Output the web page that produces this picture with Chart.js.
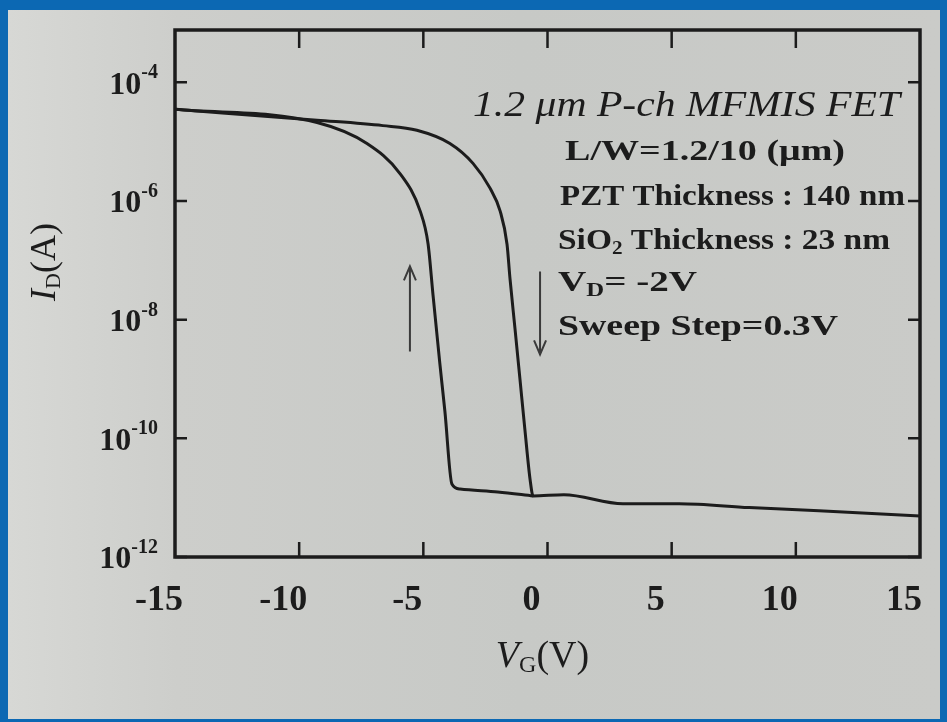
<!DOCTYPE html>
<html><head><meta charset="utf-8">
<script src="https://cdn.jsdelivr.net/npm/chart.js@4/dist/chart.umd.min.js"></script>
<style>
html,body{margin:0;padding:0;background:#0c68b3;width:947px;height:722px;overflow:hidden}
#paper{position:absolute;left:8px;top:10px;width:932px;height:709px;background:linear-gradient(90deg,#d7d8d5 0%,#cdcecb 18%,#c7c9c6 55%,#cacbc8 100%)}
canvas{position:absolute;left:0;top:0}
</style></head>
<body><div id="paper"></div><canvas id="c" width="947" height="722"></canvas>
<script>
// ---- data ----
const vgForward = [-15, -9.28, -6.63, -5.26, -3.93, -3.00, -2.32, -1.91, -1.63, -1.51, -1.31, -1.11, -0.91, -0.70, -0.58, 0.66, 3.04, 5.30, 8.12, 10.93, 15];
const idForward = [3.5e-5, 2.3e-5, 1.86e-5, 1.55e-5, 9.3e-6, 4.3e-6, 1.66e-6, 6.8e-7, 1.86e-7, 4.9e-8, 7.1e-9, 1.0e-9, 1.4e-10, 2.0e-11, 1.07e-11, 1.12e-11, 7.9e-12, 7.9e-12, 6.8e-12, 6.0e-12, 4.9e-12];
const vgReverse = [-15, -9.28, -7.27, -5.94, -5.13, -4.81, -4.61, -4.34, -4.13, -3.85, -3.52, -2.0, -0.58];
const idReverse = [3.5e-5, 2.1e-5, 9.3e-6, 2.9e-6, 6.8e-7, 1.9e-7, 2.6e-8, 1.9e-9, 2.8e-10, 1.7e-11, 1.4e-11, 1.25e-11, 1.07e-11];
const xTickValues = [-15, -10, -5, 0, 5, 10, 15];
const yExponents = [-4, -6, -8, -10, -12];
const arrowVg = [-5.54, -0.30];
const arrowFrom = [2.9e-9, 6.5e-8];
const arrowTo = [7.9e-8, 2.6e-9];
const noteTitle = '1.2 \u03bcm P-ch MFMIS FET';
const noteLines = ['L/W=1.2/10 (\u03bcm)', 'PZT Thickness : 140 nm', 'SiO|2| Thickness : 23 nm', 'V|D|= -2V', 'Sweep Step=0.3V'];
const xTitle = ['V', 'G', '(V)'];
const yTitle = ['I', 'D', '(A)'];

const INK = '#1c1c1c';
const SERIF = "'Liberation Serif','DejaVu Serif',serif";

function drawParts(ctx, parts, x, y, targetW) {
  let w = 0;
  parts.forEach(p => { ctx.font = p.f; p.w = ctx.measureText(p.t).width; w += p.w; });
  const s = targetW ? targetW / w : 1;
  ctx.save(); ctx.translate(x, y); ctx.scale(s, 1);
  let cx = 0;
  parts.forEach(p => { ctx.font = p.f; ctx.fillText(p.t, cx, p.dy || 0); cx += p.w; });
  ctx.restore();
  return w * s;
}
function splitSub(str, size, subSize, weight) {
  const seg = str.split('|');
  return seg.map((t, i) => i % 2 ? { t, f: `${weight} ${subSize}px ${SERIF}`, dy: 8 } : { t, f: `${weight} ${size}px ${SERIF}` });
}

const deco = {
  id: 'deco',
  afterDraw(chart) {
    const { ctx, chartArea: a, scales: { x, y } } = chart;
    ctx.save();
    ctx.fillStyle = INK; ctx.strokeStyle = INK;
    // frame
    ctx.lineWidth = 3.5;
    ctx.strokeRect(a.left, a.top, a.right - a.left, a.bottom - a.top);
    // inward ticks
    ctx.lineWidth = 2.5;
    y.ticks.forEach(t => {
      const py = y.getPixelForValue(t.value);
      ctx.beginPath(); ctx.moveTo(a.left, py); ctx.lineTo(a.left + 12, py);
      ctx.moveTo(a.right, py); ctx.lineTo(a.right - 12, py); ctx.stroke();
    });
    x.ticks.forEach(t => {
      if (t.value <= x.min || t.value >= x.max) return;
      const px = x.getPixelForValue(t.value);
      ctx.beginPath(); ctx.moveTo(px, a.bottom); ctx.lineTo(px, a.bottom - 15);
      ctx.moveTo(px, a.top); ctx.lineTo(px, a.top + 18); ctx.stroke();
    });
    // y tick labels 10^n
    ctx.textBaseline = 'middle'; ctx.textAlign = 'left';
    y.ticks.forEach(t => {
      const py = y.getPixelForValue(t.value);
      const e = String(Math.round(Math.log10(t.value)));
      ctx.font = `bold 20px ${SERIF}`;
      const ew = ctx.measureText(e).width;
      ctx.font = `bold 32px ${SERIF}`;
      const bw = ctx.measureText('10').width;
      const right = 158;
      ctx.fillText('10', right - ew - bw, py + 3);
      ctx.font = `bold 20px ${SERIF}`;
      ctx.fillText(e, right - ew, py - 9);
    });
    // arrows
    ctx.strokeStyle = '#3a3a3a'; ctx.lineWidth = 2;
    arrowVg.forEach((v, i) => {
      const px = x.getPixelForValue(v);
      const p0 = y.getPixelForValue(arrowFrom[i]);
      const p1 = y.getPixelForValue(arrowTo[i]);
      const dir = Math.sign(p1 - p0);
      ctx.beginPath(); ctx.moveTo(px, p0); ctx.lineTo(px, p1);
      ctx.moveTo(px - 6, p1 - dir * 14); ctx.lineTo(px, p1); ctx.lineTo(px + 6, p1 - dir * 14);
      ctx.stroke();
    });
    // annotation block
    ctx.fillStyle = INK; ctx.textBaseline = 'middle';
    drawParts(ctx, [{ t: noteTitle, f: `italic 36px ${SERIF}` }], 473, 107, 427);
    const lx = [565, 560, 558, 558, 558];
    const ly = [152, 197, 241, 283, 327];
    const lw = [280, 345, 332, 139, 280];
    noteLines.forEach((s, i) => drawParts(ctx, splitSub(s, 30, 19, 'bold'), lx[i], ly[i], lw[i]));
    // axis titles
    const xt = [{ t: xTitle[0], f: `italic 38px ${SERIF}` }, { t: xTitle[1], f: `24px ${SERIF}`, dy: 9 }, { t: xTitle[2], f: `38px ${SERIF}` }];
    let tw = 0; xt.forEach(p => { ctx.font = p.f; tw += ctx.measureText(p.t).width; });
    drawParts(ctx, xt, (a.left + a.right) / 2 - tw / 2 - 5, 657);
    const yt = [{ t: yTitle[0], f: `italic 36px ${SERIF}` }, { t: yTitle[1], f: `22px ${SERIF}`, dy: 8 }, { t: yTitle[2], f: `36px ${SERIF}` }];
    tw = 0; yt.forEach(p => { ctx.font = p.f; tw += ctx.measureText(p.t).width; });
    ctx.save(); ctx.translate(46, 262); ctx.rotate(-Math.PI / 2);
    drawParts(ctx, yt, -tw / 2, 0);
    ctx.restore();
    ctx.restore();
  }
};

const lineStyle = { borderColor: INK, borderWidth: 3, pointRadius: 0, showLine: true, fill: false, cubicInterpolationMode: 'monotone' };

new Chart(document.getElementById('c'), {
  type: 'scatter',
  data: {
    datasets: [
      Object.assign({ label: 'Forward sweep', data: vgForward.map((v, i) => ({ x: v, y: idForward[i] })) }, lineStyle),
      Object.assign({ label: 'Reverse sweep', data: vgReverse.map((v, i) => ({ x: v, y: idReverse[i] })) }, lineStyle)
    ]
  },
  options: {
    responsive: false, animation: false, devicePixelRatio: 1,
    layout: { padding: { left: 0, top: 30, right: 27, bottom: 0 } },
    plugins: { legend: { display: false }, tooltip: { enabled: false } },
    scales: {
      x: {
        type: 'linear', min: -15, max: 15,
        grid: { display: false }, border: { display: false },
        afterBuildTicks: s => { s.ticks = xTickValues.map(v => ({ value: v })); },
        afterFit: s => { s.height = 722 - 557; s.paddingLeft = 0; s.paddingRight = 0; },
        ticks: { color: INK, padding: 14, labelOffset: -16, maxRotation: 0, autoSkip: false,
          font: { family: SERIF, size: 36, weight: 'bold' }, callback: v => String(v) }
      },
      y: {
        type: 'logarithmic', min: 1e-12, max: 7.6e-4,
        grid: { display: false }, border: { display: false },
        afterBuildTicks: s => { s.ticks = yExponents.map(e => ({ value: Math.pow(10, e) })); },
        afterFit: s => { s.width = 175; s.paddingTop = 0; s.paddingBottom = 0; },
        ticks: { display: false }
      }
    }
  },
  plugins: [deco]
});
</script></body></html>
